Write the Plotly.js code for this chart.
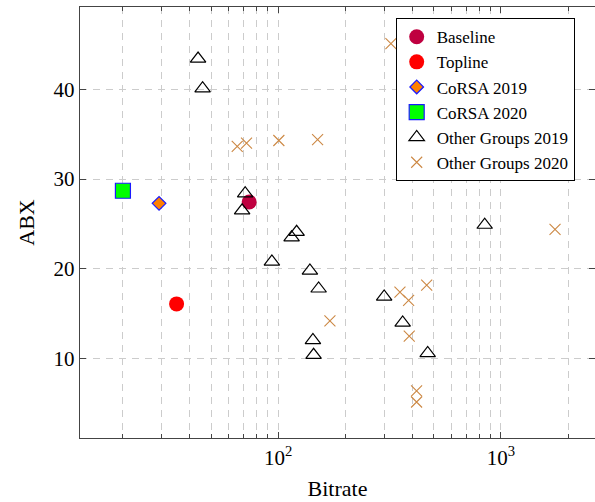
<!DOCTYPE html>
<html>
<head>
<meta charset="utf-8">
<script src="https://cdn.plot.ly/plotly-3.0.1.min.js"></script>
<style>html,body{margin:0;padding:0;background:#fff;}#chart{width:595px;height:502px;}</style>
</head>
<body>
<div id="chart"></div>
<script>
// Data
const baselineX = [74.1];
const baselineY = [27.45];
const toplineX = [35.0];
const toplineY = [16.1];
const corsa2019X = [29.2];
const corsa2019Y = [27.3];
const corsa2020X = [20.1];
const corsa2020Y = [28.7];
const other2019X = [43.7, 45.8, 71.1, 68.9, 121, 114.9, 93.7, 138.8, 151.9, 299, 362, 143.2, 144.2, 468.8, 845];
const other2019Y = [43.4, 40.1, 28.4, 26.5, 24.1, 23.5, 20.8, 19.8, 17.8, 16.9, 14.0, 12.05, 10.4, 10.6, 24.9];
const other2020X = [65.5, 72.1, 100.7, 150.3, 320.6, 170.7, 352, 385, 464, 387.5, 418, 418, 1748];
const other2020Y = [33.65, 34.0, 34.3, 34.4, 45.1, 14.2, 17.4, 16.5, 18.2, 12.5, 6.4, 5.17, 24.4];
const seriesNames = ["Baseline", "Topline", "CoRSA 2019", "CoRSA 2020", "Other Groups 2019", "Other Groups 2020"];
const xTickVals = [100, 1000];
const xTickText = ["10<sup>2</sup>", "10<sup>3</sup>"];
const yTickVals = [10, 20, 30, 40];
const yTickText = ["10", "20", "30", "40"];

const minorVals = [];
[10, 100, 1000].forEach(d => { for (let k = 2; k <= 9; k++) minorVals.push(k * d); });

const font = "'Liberation Serif', 'Times New Roman', serif";
const traces = [
  {x: baselineX, y: baselineY, name: seriesNames[0], mode: "markers", type: "scatter",
   marker: {symbol: "circle", size: 15, color: "#bf0040", line: {width: 0}}},
  {x: toplineX, y: toplineY, name: seriesNames[1], mode: "markers", type: "scatter",
   marker: {symbol: "circle", size: 15, color: "#ff0000", line: {width: 0}}},
  {x: corsa2019X, y: corsa2019Y, name: seriesNames[2], mode: "markers", type: "scatter",
   marker: {symbol: "diamond", size: 10.5, color: "#ff8000", line: {width: 1.2, color: "#1a1aff"}}},
  {x: corsa2020X, y: corsa2020Y, name: seriesNames[3], mode: "markers", type: "scatter",
   marker: {symbol: "square", size: 15, color: "#00ff00", line: {width: 1.2, color: "#1a1aff"}}},
  {x: other2019X, y: other2019Y, name: seriesNames[4], mode: "markers", type: "scatter",
   marker: {symbol: "triangle-up-open", size: 13.5, color: "#000000", line: {width: 1.2, color: "#000000"}}},
  {x: other2020X, y: other2020Y, name: seriesNames[5], mode: "markers", type: "scatter",
   marker: {symbol: "x-thin-open", size: 11, color: "#cc8844", line: {width: 1.1, color: "#cc8844"}}}
];

const layout = {
  width: 595, height: 502,
  margin: {l: 80, r: 0, t: 7, b: 64, pad: 0},
  paper_bgcolor: "#ffffff", plot_bgcolor: "#ffffff",
  font: {family: font, size: 21, color: "#000"},
  showlegend: true,
  legend: {x: 0.613, y: 0.974, xanchor: "left", yanchor: "top",
           bgcolor: "#ffffff", bordercolor: "#000000", borderwidth: 1,
           font: {family: font, size: 17, color: "#000"}, itemwidth: 30, tracegroupgap: 0},
  xaxis: {
    type: "log", range: [Math.log10(12.9), Math.log10(2642)],
    tickmode: "array", tickvals: xTickVals, ticktext: xTickText,
    ticks: "inside", ticklen: 6, tickcolor: "#444", tickwidth: 1,
    showline: true, linecolor: "#444", linewidth: 1.3, mirror: "ticks",
    showgrid: true, gridcolor: "#cccccc", griddash: "7px,6px", gridwidth: 1,
    zeroline: false,
    minor: {tickmode: "array", tickvals: minorVals, ticks: "inside", ticklen: 4, tickcolor: "#444",
            showgrid: true, gridcolor: "#cccccc", griddash: "7px,6px", gridwidth: 1},
    tickfont: {family: font, size: 21},
    title: {text: "Bitrate", font: {family: font, size: 22}, standoff: 12}
  },
  yaxis: {
    range: [1.16, 49.17],
    tickmode: "array", tickvals: yTickVals, ticktext: yTickText,
    ticks: "inside", ticklen: 6, tickcolor: "#444", tickwidth: 1,
    showline: true, linecolor: "#444", linewidth: 1.3, mirror: "ticks",
    showgrid: true, gridcolor: "#cccccc", griddash: "7px,6px", gridwidth: 1,
    zeroline: false,
    tickfont: {family: font, size: 21},
    title: {text: "ABX", font: {family: font, size: 22}, standoff: 12}
  }
};

Plotly.newPlot("chart", traces, layout, {displayModeBar: false, staticPlot: true});
</script>
</body>
</html>
